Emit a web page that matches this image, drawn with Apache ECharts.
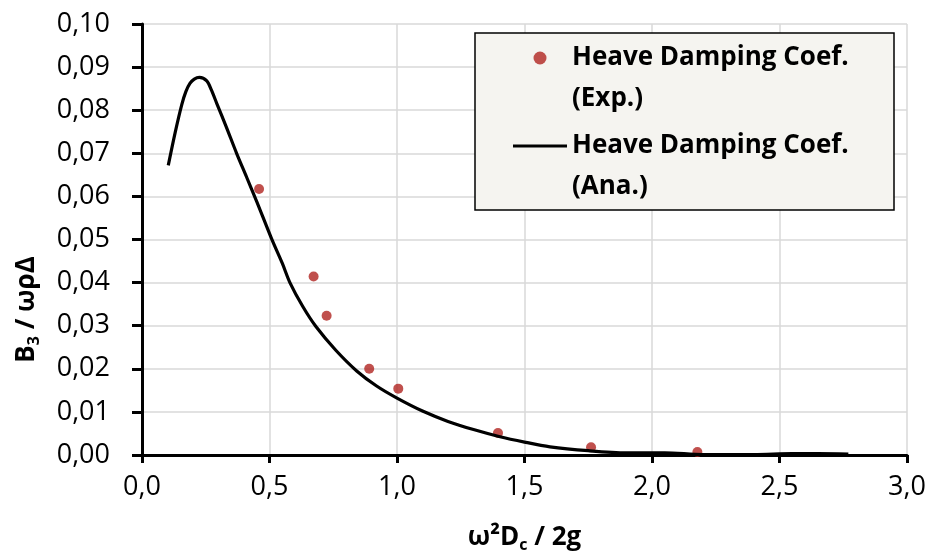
<!DOCTYPE html>
<html><head><meta charset="utf-8">
<script src="https://cdn.jsdelivr.net/npm/echarts@6/dist/echarts.min.js"></script>
<style>html,body{margin:0;padding:0;background:#fff}#c{width:932px;height:556px}</style>
</head><body><div id="c"></div>
<script>
// Experimental points
const expX = [0.459, 0.673, 0.724, 0.891, 1.005, 1.396, 1.761, 2.178];
const expY = [0.0617, 0.0414, 0.0323, 0.0200, 0.0154, 0.0051, 0.0018, 0.0007];
// Analytical curve
const anaX = [0.103, 0.13, 0.156, 0.172, 0.188, 0.205, 0.225, 0.254, 0.272, 0.293, 0.33, 0.371, 0.41, 0.45, 0.508, 0.55, 0.58, 0.63, 0.682, 0.76, 0.842, 0.92, 1.0, 1.1, 1.2, 1.3, 1.4, 1.5, 1.6, 1.75, 1.9, 2.05, 2.2, 2.4, 2.55, 2.65, 2.77];
const anaY = [0.0672, 0.0748, 0.0813, 0.0843, 0.0862, 0.0872, 0.0876, 0.0868, 0.0847, 0.0816, 0.0762, 0.0700, 0.0645, 0.0588, 0.0502, 0.0445, 0.0400, 0.0345, 0.0298, 0.0243, 0.0195, 0.0160, 0.0132, 0.0102, 0.0078, 0.0059, 0.0043, 0.0030, 0.0019, 0.0010, 0.0005, 0.0005, 0.0001, 0.0001, 0.0003, 0.0003, 0.0002];
// Tick labels
const xTickLabels = ['0,0', '0,5', '1,0', '1,5', '2,0', '2,5', '3,0'];
const yTickLabels = ['0,00', '0,01', '0,02', '0,03', '0,04', '0,05', '0,06', '0,07', '0,08', '0,09', '0,10'];
const seriesNames = ['Heave Damping Coef. (Exp.)', 'Heave Damping Coef. (Ana.)'];

const FONT = 'Open Sans';
const chart = echarts.init(document.getElementById('c'));
const nameRich = {
  n: {fontFamily: FONT, fontSize: 26, fontWeight: 'bold', color: '#000', lineHeight: 30},
  s: {fontFamily: FONT, fontSize: 16, fontWeight: 'bold', color: '#000', lineHeight: 10, verticalAlign: 'bottom'}
};
const blackLine = {color: '#000', width: 3};
chart.setOption({
  animation: false,
  backgroundColor: '#fff',
  color: ['#b02421', '#000000'],
  grid: {left: 142, right: 25, top: 24, bottom: 101, containLabel: false, outerBoundsMode: 'none'},
  xAxis: {
    type: 'value', min: 0, max: 3, interval: 0.5,
    name: '{n|ω²D}{s|c}{n| / 2g}', nameLocation: 'middle', nameGap: 68,
    nameTextStyle: {rich: nameRich},
    axisLine: {show: true, lineStyle: blackLine},
    axisTick: {show: true, length: 8, lineStyle: blackLine},
    splitLine: {show: true, lineStyle: {color: '#d9d9d9', width: 1.5}},
    axisLabel: {margin: 19, fontFamily: FONT, fontSize: 27, color: '#000',
      formatter: v => xTickLabels[Math.round(v / 0.5)]}
  },
  yAxis: {
    type: 'value', min: 0, max: 0.1, interval: 0.01,
    name: '{n|B}{s|3}{n| / ωρΔ}', nameLocation: 'middle', nameGap: 100, nameRotate: 90,
    nameTextStyle: {rich: nameRich, padding: [0, 140, 0, 0]},
    axisLine: {show: true, lineStyle: blackLine},
    axisTick: {show: true, length: 10, lineStyle: blackLine},
    splitLine: {show: true, lineStyle: {color: '#d9d9d9', width: 1.5}},
    axisLabel: {margin: 32, fontFamily: FONT, fontSize: 27, color: '#000',
      formatter: v => yTickLabels[Math.round(v / 0.01)]}
  },
  graphic: [{
    type: 'rect', z: 3, shape: {x: 475, y: 33, width: 419, height: 177},
    style: {fill: '#f5f4f0', stroke: '#000', lineWidth: 1.5}
  }],
  legend: {
    orient: 'vertical', left: 513, top: -3.5, padding: 0, itemGap: -35,
    itemWidth: 54, itemHeight: 13, z: 5,
    data: [{name: seriesNames[0], icon: 'circle'},
           {name: seriesNames[1], icon: 'path://M0,0 H54 V3.2 H0 Z'}],
    formatter: n => '\n' + n.replace(' (', '\n('),
    textStyle: {fontFamily: FONT, fontSize: 26, fontWeight: 'bold', color: '#000', lineHeight: 41}
  },
  series: [{
    name: seriesNames[0], type: 'scatter',
    data: expX.map((x, i) => [x, expY[i]])
  }, {
    name: seriesNames[1], type: 'line',
    symbol: 'none', smooth: 0.3,
    lineStyle: {color: '#000', width: 3.2},
    data: anaX.map((x, i) => [x, anaY[i]])
  }]
});
</script></body></html>
